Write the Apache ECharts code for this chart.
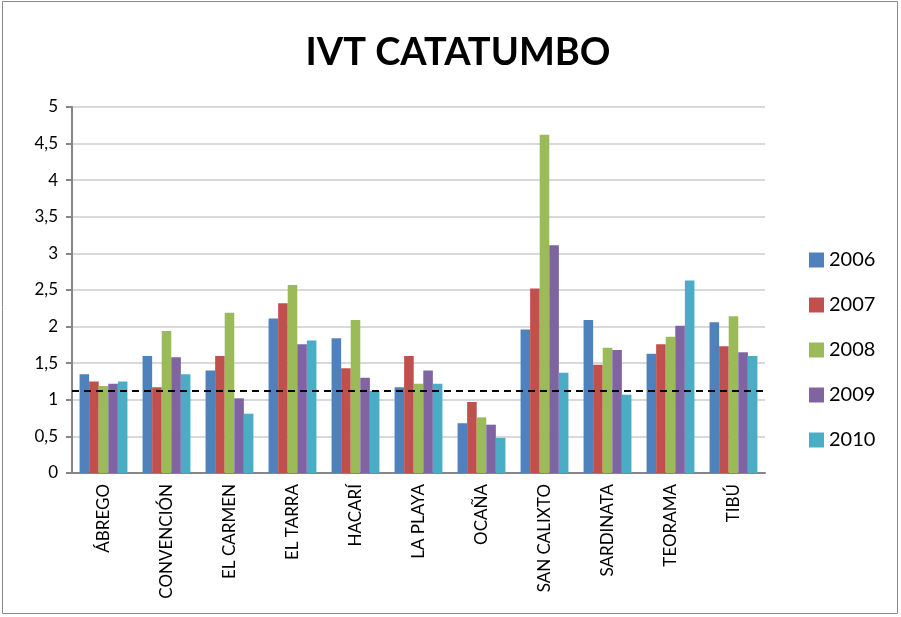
<!DOCTYPE html>
<html>
<head>
<meta charset="utf-8">
<script src="https://cdn.jsdelivr.net/npm/echarts@6/dist/echarts.min.js"></script>
<style>
  html, body { margin: 0; padding: 0; background: #fff; }
  #chart { width: 901px; height: 617px; }
</style>
</head>
<body>
<div id="chart"></div>
<script>
// municipios
const municipios = ["ÁBREGO", "CONVENCIÓN", "EL CARMEN", "EL TARRA", "HACARÍ", "LA PLAYA",
  "OCAÑA", "SAN CALIXTO", "SARDINATA", "TEORAMA", "TIBÚ"];
const anios = ["2006", "2007", "2008", "2009", "2010"];

// valores IVT por año
const ivt2006 = [1.35, 1.60, 1.40, 2.11, 1.84, 1.17, 0.68, 1.96, 2.09, 1.63, 2.06];
const ivt2007 = [1.25, 1.17, 1.60, 2.32, 1.43, 1.60, 0.97, 2.52, 1.48, 1.76, 1.73];
const ivt2008 = [1.19, 1.94, 2.19, 2.57, 2.09, 1.22, 0.76, 4.62, 1.71, 1.86, 2.14];
const ivt2009 = [1.22, 1.58, 1.02, 1.76, 1.30, 1.40, 0.66, 3.11, 1.68, 2.01, 1.65];
const ivt2010 = [1.25, 1.35, 0.81, 1.81, 1.12, 1.22, 0.48, 1.37, 1.07, 2.63, 1.60];
const umbral = 1.13;

const colores = ["#4F81BD", "#C0504D", "#9BBB59", "#8064A2", "#4BACC6"];
const valores = [ivt2006, ivt2007, ivt2008, ivt2009, ivt2010];

const chart = echarts.init(document.getElementById("chart"));

const series = anios.map((anio, i) => {
  const s = {
    name: anio,
    type: "bar",
    data: valores[i],
    barGap: "0%",
    barCategoryGap: "24%",
    itemStyle: { color: colores[i] },
    emphasis: { disabled: true },
  };
  if (i === 0) {
    s.markLine = {
      silent: true,
      symbol: ["none", "none"],
      label: { show: false },
      lineStyle: { color: "#000", type: [7, 5], width: 2 },
      data: [{ yAxis: umbral }],
    };
  }
  return s;
});

chart.setOption({
  animation: false,
  textStyle: { fontFamily: "Lato" },
  title: {
    text: "IVT CATATUMBO",
    left: 453,
    top: 29,
    textAlign: "center",
    textStyle: { fontSize: 38, fontWeight: "bold", color: "#000", fontFamily: "Lato" },
  },
  legend: {
    orient: "vertical",
    left: 804,
    top: 245,
    itemWidth: 15,
    itemHeight: 15,
    itemGap: 25,
    icon: "rect",
    textStyle: { fontSize: 20, color: "#000", fontFamily: "Lato" },
    data: anios,
  },
  grid: { left: 72, right: 136, top: 107, bottom: 144 },
  xAxis: {
    type: "category",
    data: municipios,
    axisLine: { lineStyle: { color: "#868686", width: 2 } },
    axisTick: { show: false },
    axisLabel: {
      interval: 0,
      rotate: 90,
      margin: 11,
      fontSize: 17,
      color: "#000",
    },
  },
  yAxis: {
    type: "value",
    min: 0,
    max: 5,
    interval: 0.5,
    axisLine: { show: true, lineStyle: { color: "#868686", width: 2 } },
    axisTick: { show: true, length: 6, lineStyle: { color: "#868686", width: 2 } },
    splitLine: { lineStyle: { color: "#d9d9d9", width: 2 } },
    axisLabel: {
      fontSize: 17,
      color: "#000",
      margin: 14,
      formatter: (v) => String(v).replace(".", ","),
    },
  },
  graphic: [
    {
      type: "rect",
      shape: { x: 2.5, y: 1.5, width: 895, height: 612 },
      style: { fill: "none", stroke: "#888", lineWidth: 1 },
      silent: true,
    },
  ],
  series: series,
});
</script>
</body>
</html>
